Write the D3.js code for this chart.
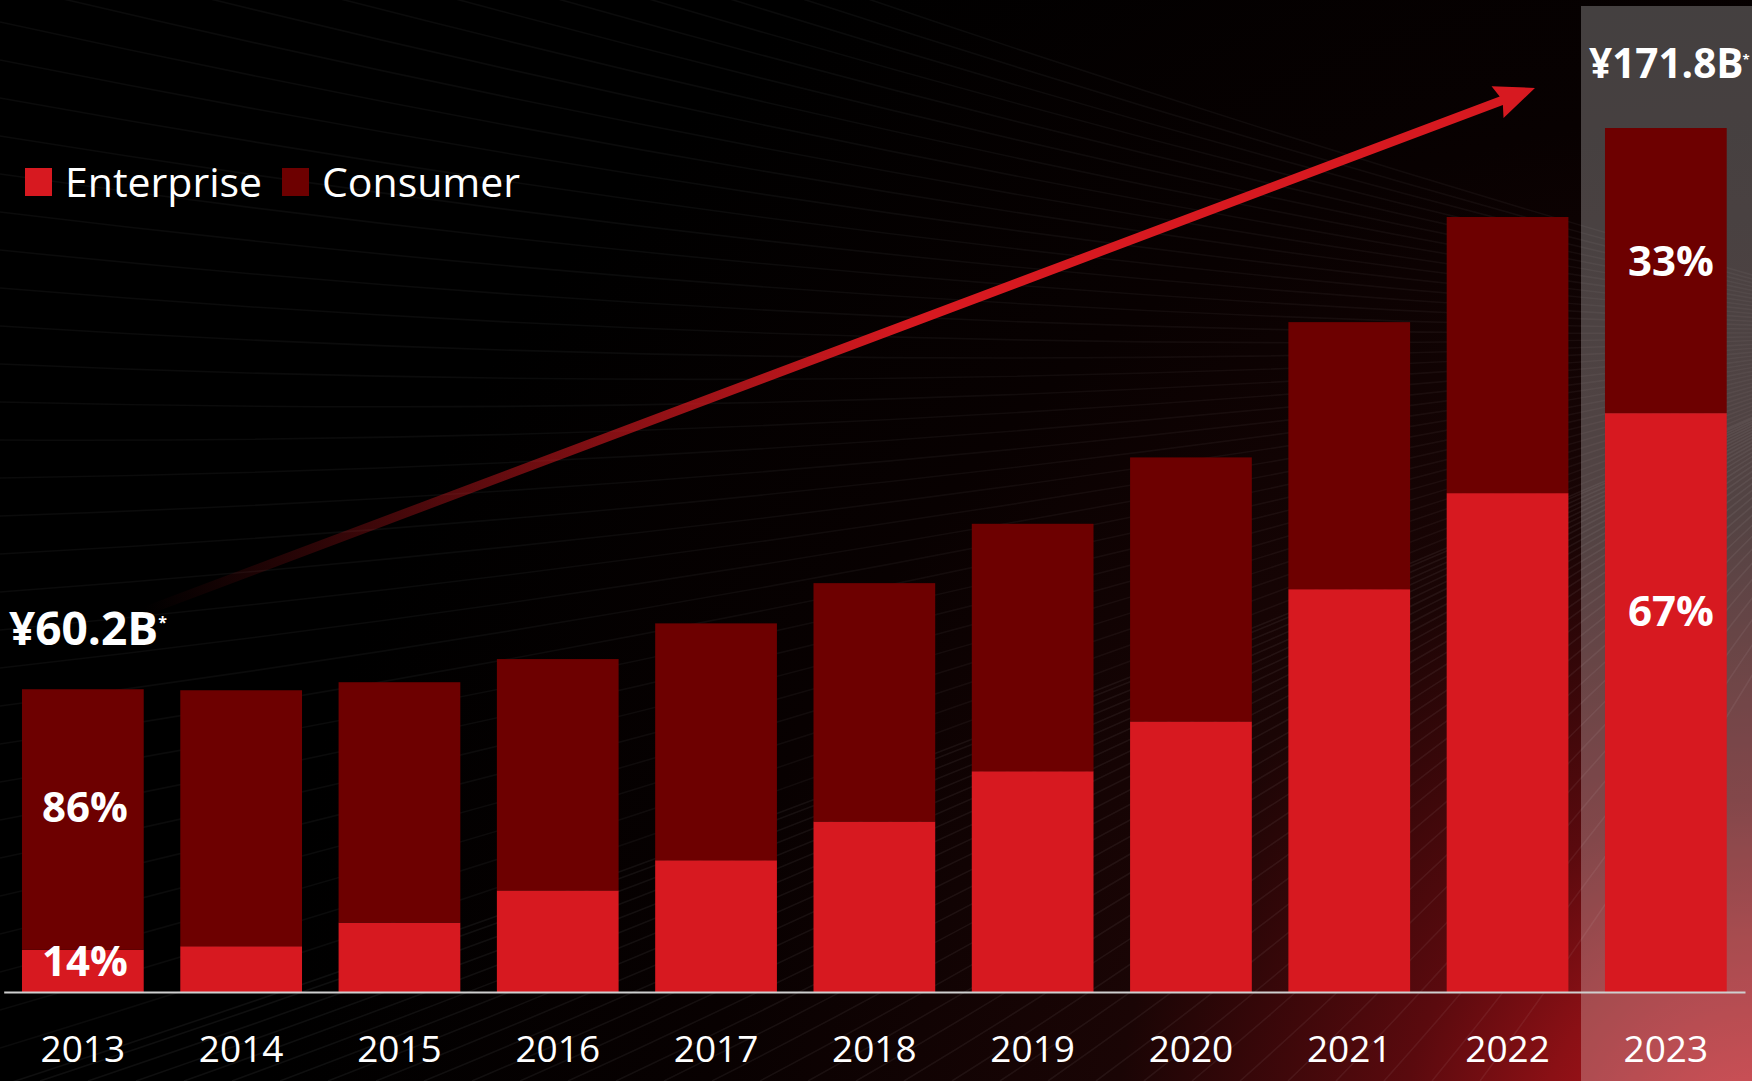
<!DOCTYPE html>
<html>
<head>
<meta charset="utf-8">
<script src="https://cdn.jsdelivr.net/npm/d3@7"></script>
<style>
  html, body { margin: 0; padding: 0; background: #000; overflow: hidden; }
  svg { display: block; }
</style>
</head>
<body>
<svg id="chart" width="1752" height="1081"></svg>
<script>
// Revenue split by segment, ¥ billions
const years = ["2013", "2014", "2015", "2016", "2017", "2018", "2019", "2020", "2021", "2022", "2023"];
const enterprise = [8.4, 9.1, 13.8, 20.2, 26.2, 33.9, 43.9, 53.8, 80.1, 99.2, 115.1];
const consumer = [51.8, 50.9, 47.8, 46.0, 47.1, 47.4, 49.2, 52.5, 53.1, 54.9, 56.7];
const seriesNames = ["Enterprise", "Consumer"];
const totalLabels = [
  { year: "2013", text: "¥60.2B" },
  { year: "2023", text: "¥171.8B" }
];
const shareLabels = [
  { year: "2013", series: "consumer", text: "86%" },
  { year: "2013", series: "enterprise", text: "14%" },
  { year: "2023", series: "consumer", text: "33%" },
  { year: "2023", series: "enterprise", text: "67%" }
];

const W = 1752, H = 1081;
const colors = { enterprise: "#d71920", consumer: "#6d0000" };
const svg = d3.select("#chart");
const defs = svg.append("defs");

const rows = years.map((y, i) => ({ year: y, enterprise: enterprise[i], consumer: consumer[i] }));
const stacked = d3.stack().keys(["enterprise", "consumer"])(rows);
const maxTotal = d3.max(rows, d => d.enterprise + d.consumer);

const x = d3.scaleBand().domain(years).range([3.7, 1745]).paddingInner(0.231).paddingOuter(0.1155);
const y = d3.scaleLinear().domain([0, maxTotal]).range([992, 128]);

// ---- background ----
svg.append("rect").attr("width", W).attr("height", H).attr("fill", "#000");

const glow = defs.append("radialGradient").attr("id", "glow")
  .attr("gradientUnits", "userSpaceOnUse")
  .attr("cx", 1760).attr("cy", 1160).attr("r", 1500);
[[0, "#cd1620"], [0.15, "#8a1015"], [0.24, "#5a0a0e"], [0.43, "#1a0505"], [0.7, "#080101"], [1, "#000"]]
  .forEach(([o, c]) => glow.append("stop").attr("offset", o).attr("stop-color", c));
svg.append("rect").attr("width", W).attr("height", H).attr("fill", "url(#glow)");

// faint sweeping light streaks converging to the right
const streaks = svg.append("g").attr("fill", "none").attr("stroke", "#fff").attr("stroke-width", 1.6);
const vp = [1950, 330];
const starts = [];
for (let sy = -320; sy <= H + 20; sy += 38) starts.push([0, sy]);
for (let sx = 40; sx <= 1500; sx += 48) starts.push([sx, H]);
starts.forEach(([sx, sy]) => {
  const mx = (sx + vp[0]) / 2, my = (sy + vp[1]) / 2 + 60;
  streaks.append("path")
    .attr("d", `M${sx},${sy} Q${mx},${my} ${vp[0]},${vp[1]}`)
    .attr("stroke-opacity", sy >= H ? 0.06 : 0.045);
});

// highlight column behind the latest year
svg.append("rect")
  .attr("x", x("2023") - 24).attr("y", 6)
  .attr("width", W - (x("2023") - 24) + 10).attr("height", H)
  .attr("fill", "#fff").attr("fill-opacity", 0.25);

// ---- growth arrow ----
const tail = [x("2013") + x.bandwidth() + 1, y(rows[0].enterprise + rows[0].consumer) - 78];
const tip = [x("2023") - 70, y(maxTotal) - 40];
const grad = defs.append("linearGradient").attr("id", "arrowGrad")
  .attr("gradientUnits", "userSpaceOnUse")
  .attr("x1", tail[0]).attr("y1", tail[1]).attr("x2", tip[0]).attr("y2", tip[1]);
[[0, 0], [0.12, 0.2], [0.3, 0.55], [0.55, 1], [1, 1]]
  .forEach(([o, a]) => grad.append("stop").attr("offset", o).attr("stop-color", "#d71920").attr("stop-opacity", a));

const dx = tip[0] - tail[0], dy = tip[1] - tail[1];
const len = Math.hypot(dx, dy);
const ux = dx / len, uy = dy / len, px = -uy, py = ux;
const headLen = 40, headHalf = 17, shaftHalf = 4.5;
const bx = tip[0] - ux * headLen, by = tip[1] - uy * headLen;
svg.append("path")
  .attr("d", [
    `M${tail[0] + px * shaftHalf},${tail[1] + py * shaftHalf}`,
    `L${bx + ux * 4 + px * shaftHalf},${by + uy * 4 + py * shaftHalf}`,
    `L${bx + px * headHalf},${by + py * headHalf}`,
    `L${tip[0]},${tip[1]}`,
    `L${bx - px * headHalf},${by - py * headHalf}`,
    `L${bx + ux * 4 - px * shaftHalf},${by + uy * 4 - py * shaftHalf}`,
    `L${tail[0] - px * shaftHalf},${tail[1] - py * shaftHalf}`, "Z"
  ].join(" "))
  .attr("fill", "url(#arrowGrad)");

// ---- bars ----
const barG = svg.append("g");
stacked.forEach(layer => {
  barG.append("g").attr("fill", colors[layer.key])
    .selectAll("rect").data(layer).join("rect")
    .attr("x", d => x(d.data.year))
    .attr("width", x.bandwidth())
    .attr("y", d => y(d[1]))
    .attr("height", d => y(d[0]) - y(d[1]));
});

// ---- axis ----
const axis = svg.append("g").attr("transform", `translate(0,${y(0)})`)
  .call(d3.axisBottom(x).tickSize(0).tickSizeOuter(0).tickPadding(44));
axis.select(".domain").attr("stroke", "#cfcfcf").attr("stroke-width", 2);
axis.selectAll(".tick text")
  .attr("fill", "#fff")
  .style("font-family", "'Open Sans', sans-serif")
  .style("font-size", "37px");

// ---- share labels ----
const layerByKey = Object.fromEntries(stacked.map(l => [l.key, l]));
const labelFont = "'Open Sans', sans-serif";
svg.append("g").selectAll("text").data(shareLabels).join("text")
  .attr("x", d => x(d.year) + x.bandwidth() / 2 + (d.year === "2023" ? 5 : 2))
  .attr("y", d => {
    const seg = layerByKey[d.series][years.indexOf(d.year)];
    const mid = (y(seg[0]) + y(seg[1])) / 2;
    return d.text === "67%" ? mid - 77 : mid + (d.series === "consumer" && d.year === "2013" ? 2 : 5);
  })
  .attr("text-anchor", "middle")
  .attr("fill", "#fff")
  .style("font-family", labelFont).style("font-weight", 700).style("font-size", "42px")
  .text(d => d.text);

// ---- total labels ----
const totals = svg.append("g");
totalLabels.forEach(d => {
  const i = years.indexOf(d.year);
  const last = i === years.length - 1;
  const t = totals.append("text")
    .attr("x", x(d.year) - (last ? 16 : 13))
    .attr("y", y(enterprise[i] + consumer[i]) - (last ? 50 : 44))
    .attr("fill", "#fff")
    .style("font-family", labelFont).style("font-weight", 700)
    .style("font-size", last ? "40.5px" : "46px");
  t.append("tspan").text(d.text);
  t.append("tspan").attr("dy", "-1.1em").attr("dx", last ? -1 : 0)
    .style("font-size", last ? "13px" : "16px").text("*");
});

// ---- legend ----
const legend = svg.append("g").attr("transform", "translate(25,168)");
const legendX = [0, 257];
seriesNames.forEach((name, i) => {
  const g = legend.append("g").attr("transform", `translate(${legendX[i]},0)`);
  g.append("rect").attr("width", 27).attr("height", 28)
    .attr("fill", colors[name.toLowerCase()]);
  g.append("text").attr("x", 40).attr("y", 29)
    .attr("fill", "#fff")
    .style("font-family", labelFont).style("font-size", "41px")
    .text(name);
});
</script>
</body>
</html>
